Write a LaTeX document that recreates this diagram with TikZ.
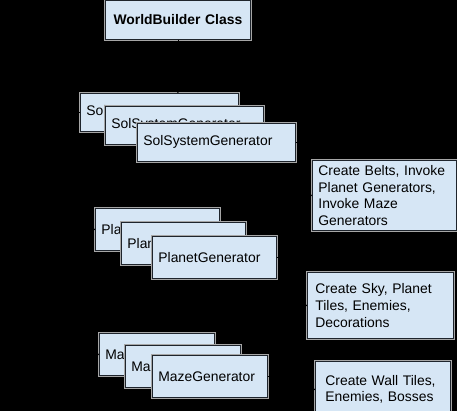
\documentclass[tikz,border=0pt]{standalone}
\usepackage{fontspec}
\setmainfont{Liberation Sans}
\usetikzlibrary{positioning}

\definecolor{boxblue}{RGB}{214,230,245}
\definecolor{boxline}{RGB}{30,36,44}

\tikzstyle{box} = [rectangle, fill = boxblue, draw = boxline, line width = 0.8pt,
	preaction = {draw = gray!70, line width = 3.5pt}, anchor = north west,
	inner xsep = 6pt, inner ysep = 0pt, align = left,
	font = \fontsize{13.9}{16.7}\selectfont]
\tikzstyle{sol} = [box, text width = 146pt, minimum height = 38pt]
\tikzstyle{planet} = [box, text width = 112pt, minimum height = 42pt]
\tikzstyle{maze} = [box, text width = 103pt, minimum height = 42pt]
\tikzstyle{arrow} = [thick, ->, black]

\begin{document}
\begin{tikzpicture}[x = 1pt, y = -1pt]

\useasboundingbox (0,0) rectangle (457,411);
\fill [black] (0,0) rectangle (457,411);

\node (WB) [box, align = center, text width = 133pt, minimum height = 39pt,
	font = \fontsize{13.9}{16.7}\selectfont\bfseries] at (105,0) {WorldBuilder Class};

% generator stacks
\node (Sol1) [sol] at (80,93) {SolSystemGenerator};
\node (Sol2) [sol, below right = 13pt and 25pt of Sol1.north west] {SolSystemGenerator};
\node (Sol3) [sol, below right = 17pt and 32pt of Sol2.north west] {SolSystemGenerator};

\node (P1) [planet] at (95,208) {PlanetGenerator};
\node (P2) [planet, below right = 14pt and 26pt of P1.north west] {PlanetGenerator};
\node (P3) [planet, below right = 14pt and 31pt of P2.north west] {PlanetGenerator};

\node (M1) [maze] at (99,333) {MazeGenerator};
\node (M2) [maze, below right = 12pt and 26pt of M1.north west] {MazeGenerator};
\node (M3) [maze, below right = 10pt and 27pt of M2.north west] {MazeGenerator};

% what each generator does
\node (Belts) [box, text width = 132pt, minimum height = 70pt] at (312,160)
	{Create Belts, Invoke\\Planet Generators,\\Invoke Maze\\Generators};
\node (Sky) [box, inner xsep = 8pt, text width = 130pt, minimum height = 66pt] at (307,272)
	{Create Sky, Planet\\Tiles, Enemies,\\Decorations};
\node (Wall) [box, inner xsep = 10pt, text width = 115pt, minimum height = 56pt] at (315,361)
	{Create Wall Tiles,\\Enemies, Bosses};

\draw [arrow] (WB) -- (WB |- Sol1.north);
\draw [arrow] (Sol1.west) -- ++(-15,0) |- (P1.west);
\draw [arrow] (P1.west) -- ++(-20,0) |- (M1.west);
\draw [arrow] (Sol3.east) -- ++(8,0) |- (Belts.west);
\draw [arrow] (P3.east) -- ++(14,0) |- (Sky.west);
\draw [arrow] (M3.east) -- ++(20,0) |- (Wall.west);
\end{tikzpicture}
\end{document}
